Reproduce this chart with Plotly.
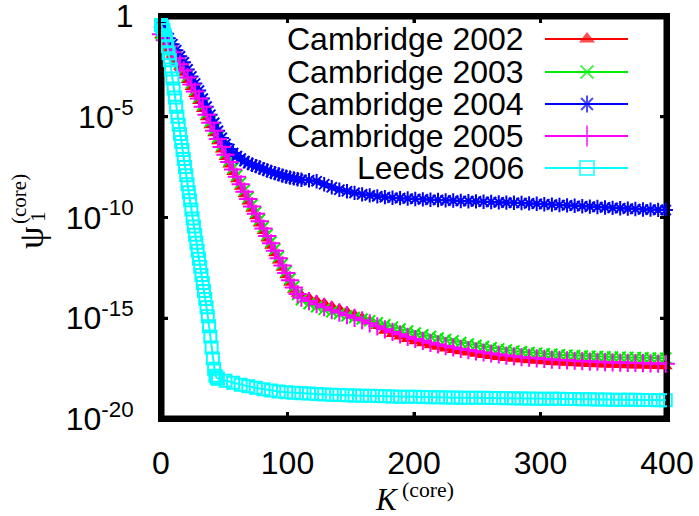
import math
import plotly.graph_objects as go

# ---------------- data (log10 of psi_1^(core)) ----------------
K_CAMBRIDGE = list(range(0, 112, 3)) + list(range(117, 400, 6))
K_LEEDS = list(range(0, 45)) + list(range(45, 400, 6))

cambridge_2002_log10 = [
    -0.95, -1.32, -1.62, -1.92, -2.22, -2.52, -2.82, -3.17, -3.52, -3.87,
    -4.22, -4.62, -5.02, -5.42, -5.82, -6.22, -6.62, -7.00, -7.37, -7.74,
    -8.10, -8.47, -8.84, -9.20, -9.57, -9.94, -10.30, -10.67, -11.04, -11.40,
    -11.77, -12.14, -12.50, -12.87, -13.24, -13.58, -13.78, -13.86,
    -13.98, -14.12, -14.26, -14.40, -14.54, -14.68, -14.83, -14.98, -15.16, -15.38,
    -15.62, -15.78, -15.91, -16.03, -16.14, -16.24, -16.34, -16.42, -16.50, -16.57,
    -16.64, -16.70, -16.76, -16.82, -16.87, -16.92, -16.97, -17.01, -17.05, -17.08,
    -17.11, -17.14, -17.17, -17.19, -17.21, -17.23, -17.25, -17.27, -17.28, -17.30,
    -17.31, -17.32, -17.33, -17.34, -17.35, -17.36, -17.37, -17.38,
]
cambridge_2003_log10 = [
    -0.88, -1.14, -1.42, -1.72, -2.02, -2.32, -2.62, -2.97, -3.32, -3.67,
    -4.02, -4.42, -4.82, -5.22, -5.62, -6.02, -6.42, -6.80, -7.17, -7.54,
    -7.90, -8.27, -8.64, -9.00, -9.37, -9.74, -10.10, -10.47, -10.84, -11.20,
    -11.57, -11.94, -12.30, -12.67, -13.04, -13.42, -13.82, -14.08,
    -14.28, -14.43, -14.56, -14.68, -14.78, -14.88, -14.96, -15.04, -15.12, -15.22,
    -15.32, -15.43, -15.53, -15.63, -15.73, -15.82, -15.90, -15.98, -16.05, -16.12,
    -16.20, -16.27, -16.34, -16.40, -16.46, -16.52, -16.57, -16.62, -16.66, -16.70,
    -16.73, -16.76, -16.79, -16.81, -16.83, -16.85, -16.87, -16.89, -16.90, -16.91,
    -16.92, -16.93, -16.94, -16.95, -16.96, -16.97, -16.98, -16.98,
]
cambridge_2004_log10 = [
    -0.55, -0.80, -1.10, -1.40, -1.70, -2.00, -2.30, -2.65, -3.00, -3.35,
    -3.70, -4.10, -4.50, -4.90, -5.30, -5.70, -6.05, -6.35, -6.60, -6.80,
    -6.95, -7.08, -7.20, -7.30, -7.38, -7.45, -7.52, -7.60, -7.67, -7.74,
    -7.80, -7.86, -7.92, -7.97, -8.02, -8.06, -8.10, -8.13,
    -8.15, -8.20, -8.35, -8.50, -8.62, -8.70, -8.78, -8.85, -8.90, -8.95,
    -8.99, -9.02, -9.04, -9.06, -9.08, -9.10, -9.12, -9.13, -9.15, -9.16,
    -9.18, -9.19, -9.20, -9.22, -9.23, -9.25, -9.26, -9.27, -9.28, -9.30,
    -9.32, -9.34, -9.36, -9.38, -9.40, -9.42, -9.44, -9.46, -9.48, -9.50,
    -9.52, -9.54, -9.56, -9.58, -9.60, -9.61, -9.62, -9.63,
]
cambridge_2005_log10 = [
    -0.90, -1.20, -1.50, -1.80, -2.10, -2.40, -2.70, -3.05, -3.40, -3.75,
    -4.10, -4.50, -4.90, -5.30, -5.70, -6.10, -6.50, -6.88, -7.25, -7.62,
    -7.98, -8.35, -8.72, -9.08, -9.45, -9.82, -10.18, -10.55, -10.92, -11.28,
    -11.65, -12.02, -12.38, -12.75, -13.12, -13.48, -13.80, -13.98,
    -14.15, -14.30, -14.45, -14.60, -14.72, -14.85, -14.98, -15.10, -15.25, -15.40,
    -15.55, -15.68, -15.80, -15.92, -16.03, -16.12, -16.22, -16.30, -16.38, -16.45,
    -16.52, -16.58, -16.64, -16.70, -16.75, -16.80, -16.85, -16.89, -16.93, -16.96,
    -16.99, -17.02, -17.05, -17.07, -17.09, -17.11, -17.13, -17.15, -17.16, -17.18,
    -17.19, -17.20, -17.21, -17.22, -17.23, -17.24, -17.25, -17.26,
]
leeds_2006_log10 = [
    -0.45, -0.55, -0.70, -0.95, -1.20, -1.50, -1.85, -2.20, -2.65, -3.10,
    -3.60, -4.05, -4.50, -5.00, -5.40, -5.85, -6.25, -6.65, -7.10, -7.50,
    -7.90, -8.35, -8.75, -9.15, -9.60, -10.05, -10.45, -10.85, -11.25, -11.65,
    -12.05, -12.45, -12.85, -13.25, -13.65, -14.05, -14.45, -14.90, -15.40, -15.90,
    -16.45, -17.00, -17.50, -17.85, -17.95,
    -18.00, -18.10, -18.20, -18.30, -18.38, -18.45, -18.52, -18.58, -18.63, -18.67,
    -18.70, -18.72, -18.74, -18.76, -18.78, -18.80, -18.81, -18.82, -18.83, -18.84,
    -18.85, -18.86, -18.87, -18.88, -18.89, -18.90, -18.90, -18.91, -18.92, -18.92,
    -18.93, -18.93, -18.94, -18.94, -18.95, -18.95, -18.96, -18.96, -18.97, -18.97,
    -18.98, -18.98, -18.99, -18.99, -19.00, -19.00, -19.01, -19.01, -19.02, -19.02,
    -19.03, -19.03, -19.04, -19.04, -19.05, -19.05, -19.06, -19.06, -19.07, -19.07,
]

SERIES_NAMES = ["Cambridge 2002", "Cambridge 2003", "Cambridge 2004",
                "Cambridge 2005", "Leeds 2006"]
Y_TICK_VALUES = [1e-20, 1e-15, 1e-10, 1e-5, 1]
Y_TICK_LABELS = ["10<sup>-20</sup>", "10<sup>-15</sup>", "10<sup>-10</sup>",
                 "10<sup>-5</sup>", "1"]
X_TICK_VALUES = [0, 100, 200, 300, 400]

# ---------------- styling / layout ----------------
W, H = 699, 516
L, R, T, B = 161, 667, 16, 419   # plot box in pixels
X_MIN, X_MAX = 0, 400
LOG_MIN, LOG_MAX = -20, 0
FRAME = "#000000"
BORDER_PX = 3.5
TICK_LEN = 7
FONT = "Liberation Sans, Arial, sans-serif"
SERIF = "Liberation Serif, Times New Roman, serif"

def px(x):
    return (x - L) / (R - L)

def py(y):
    return (B - y) / (B - T)

def key_x(pix):      # pixel -> K axis value (for key placement)
    return X_MIN + px(pix) * (X_MAX - X_MIN)

def key_y(pix):      # pixel -> log-axis value (for key placement)
    return 10 ** (LOG_MIN + py(pix) * (LOG_MAX - LOG_MIN))

styles = [
    dict(color="#ff0000", symbol="triangle-up", size=12, lw=0),
    dict(color="#00ee00", symbol="x-thin-open", size=11, lw=2),
    dict(color="#0000ff", symbol="asterisk-open", size=12, lw=2),
    dict(color="#ff00ff", symbol="cross-thin-open", size=13, lw=2),
    dict(color="#00ffff", symbol="square-open", size=12, lw=2),
]
series = [
    (K_CAMBRIDGE, cambridge_2002_log10),
    (K_CAMBRIDGE, cambridge_2003_log10),
    (K_CAMBRIDGE, cambridge_2004_log10),
    (K_CAMBRIDGE, cambridge_2005_log10),
    (K_LEEDS, leeds_2006_log10),
]

fig = go.Figure()
for name, (ks, logs), st in zip(SERIES_NAMES, series, styles):
    fig.add_trace(go.Scatter(
        x=ks, y=[10 ** v for v in logs], name=name, mode="lines+markers",
        line=dict(color=st["color"], width=2),
        marker=dict(symbol=st["symbol"], size=st["size"], color=st["color"],
                    line=dict(color=st["color"], width=st["lw"])),
        cliponaxis=False, showlegend=False,
    ))

# gnuplot-style key: text right-aligned, sample line + point on the right
key_rows = [39, 72, 104, 136, 168]
for name, st, ry in zip(SERIES_NAMES, styles, key_rows):
    fig.add_trace(go.Scatter(
        x=[key_x(545), key_x(587), key_x(628)], y=[key_y(ry)] * 3,
        mode="lines+markers",
        line=dict(color=st["color"], width=2),
        marker=dict(symbol=st["symbol"], size=[0, st["size"] + 2, 0], color=st["color"],
                    line=dict(color=st["color"], width=st["lw"])),
        showlegend=False, hoverinfo="skip",
    ))
    fig.add_annotation(text=name, xref="paper", yref="paper", x=px(526), y=py(ry),
                       xanchor="right", yanchor="middle", showarrow=False,
                       font=dict(family=FONT, size=32, color="black"))

axis_common = dict(showline=True, linecolor=FRAME, linewidth=3, mirror="allticks",
                   ticks="inside", ticklen=TICK_LEN, tickwidth=3, tickcolor=FRAME,
                   showgrid=False, zeroline=False, layer="above traces",
                   automargin=False, ticklabeloverflow="allow",
                   tickfont=dict(family=FONT, size=32, color="black"))

# black plot background + white inset panel => black border made of fills
fig.update_layout(
    width=W, height=H,
    margin=dict(l=L, r=W - R, t=T, b=H - B, pad=0, autoexpand=False),
    paper_bgcolor="white", plot_bgcolor=FRAME,
    xaxis=dict(range=[X_MIN, X_MAX], tickvals=X_TICK_VALUES, ticklabelstandoff=14,
               **axis_common),
    yaxis=dict(type="log", range=[LOG_MIN, LOG_MAX], tickvals=Y_TICK_VALUES,
               ticktext=Y_TICK_LABELS, ticklabelstandoff=18, **axis_common),
    showlegend=False,
)

bw_x = BORDER_PX / (R - L)
bw_y = BORDER_PX / (B - T)
tlx = TICK_LEN / (R - L)
tly = TICK_LEN / (B - T)
hx = 1.5 / (R - L)
hy = 1.5 / (B - T)
shape_list = [dict(type="rect", xref="paper", yref="paper", x0=bw_x, y0=bw_y,
                   x1=1 - bw_x, y1=1 - bw_y, fillcolor="white", line=dict(width=0),
                   layer="below")]
ticks = []
for v in X_TICK_VALUES[1:-1]:
    xp = (v - X_MIN) / (X_MAX - X_MIN)
    ticks.append((xp - hx, 0, xp + hx, tly))
    ticks.append((xp - hx, 1 - tly, xp + hx, 1))
for v in Y_TICK_VALUES[1:-1]:
    yp = (math.log10(v) - LOG_MIN) / (LOG_MAX - LOG_MIN)
    ticks.append((0, yp - hy, tlx, yp + hy))
    ticks.append((1 - tlx, yp - hy, 1, yp + hy))
for a, b, c, d in ticks:
    shape_list.append(dict(type="rect", xref="paper", yref="paper", x0=a, y0=b, x1=c, y1=d,
                           fillcolor=FRAME, line=dict(width=0), layer="below"))
fig.update_layout(shapes=shape_list)

# axis titles
fig.add_annotation(text="<i>K</i><sup> (core)</sup>", xref="paper", yref="paper",
                   x=px(414), y=py(497), xanchor="center", yanchor="middle",
                   showarrow=False, font=dict(family=SERIF, size=31, color="black"))
fig.add_annotation(text="ψ", xref="paper", yref="paper", x=px(31), y=py(238),
                   textangle=-90, xanchor="center", yanchor="middle", showarrow=False,
                   font=dict(family=SERIF, size=36, color="black"))
fig.add_annotation(text="1", xref="paper", yref="paper", x=px(38), y=py(217),
                   textangle=-90, xanchor="center", yanchor="middle", showarrow=False,
                   font=dict(family=SERIF, size=21, color="black"))
fig.add_annotation(text="(core)", xref="paper", yref="paper", x=px(19), y=py(199),
                   textangle=-90, xanchor="center", yanchor="middle", showarrow=False,
                   font=dict(family=SERIF, size=21, color="black"))

fig.write_html("out.html", config={"displayModeBar": False},
               post_script="document.body.style.margin='0';")
